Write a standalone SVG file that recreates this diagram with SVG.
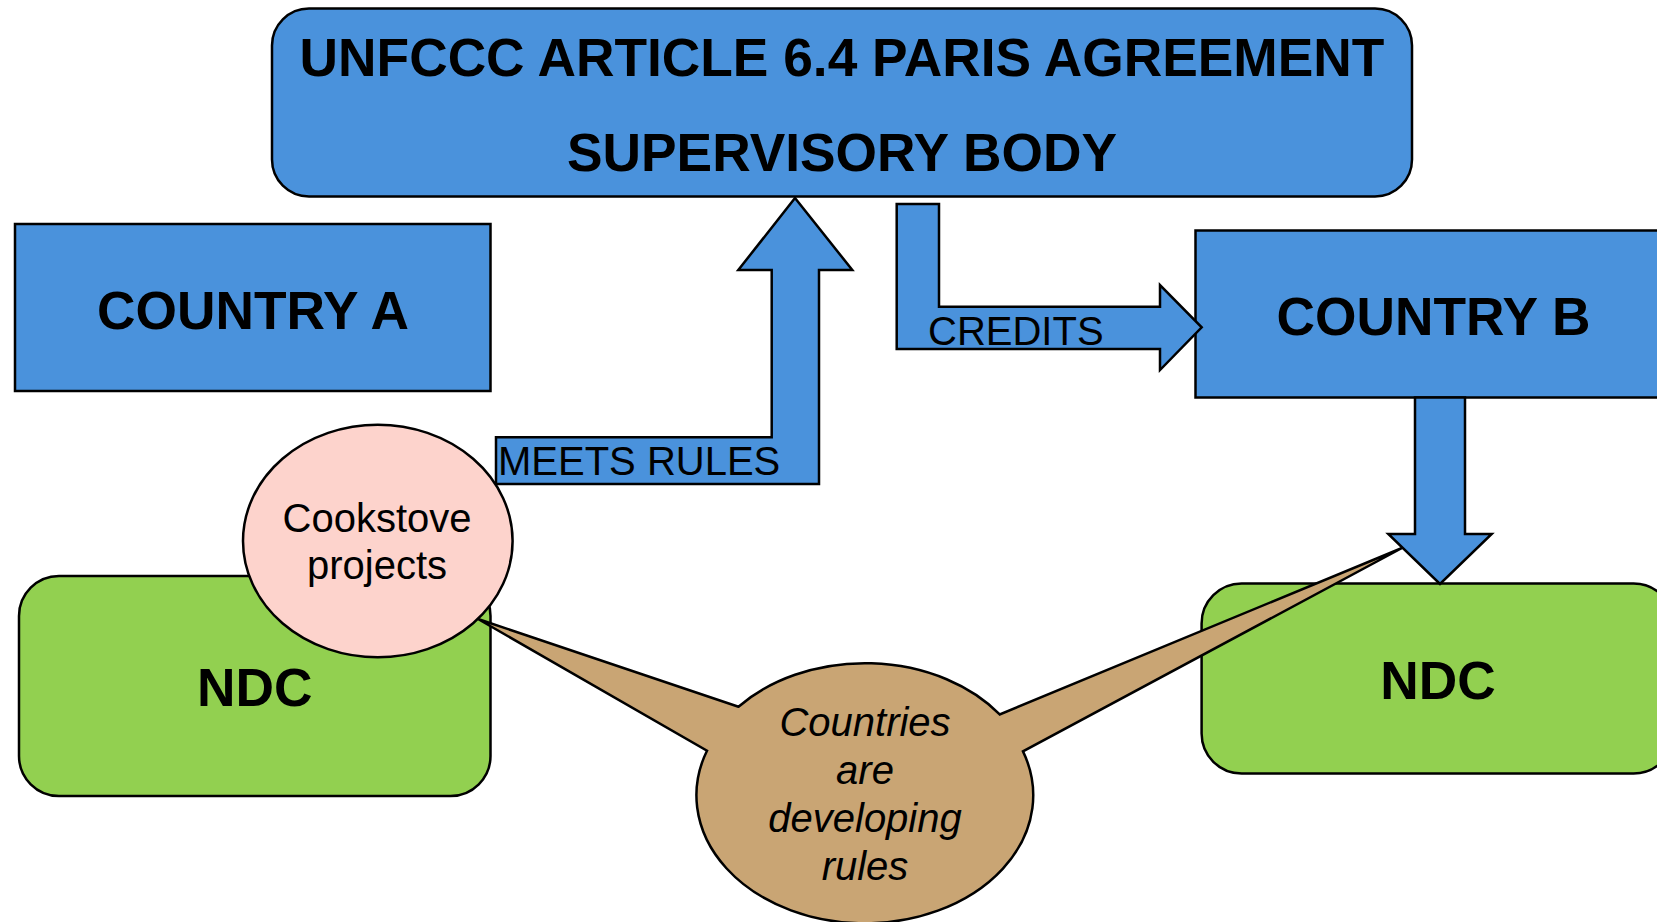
<svg xmlns="http://www.w3.org/2000/svg" width="1657" height="922" viewBox="0 0 1657 922">
<style>
.blue{fill:#4A92DC;stroke:#000;stroke-width:2.5}
.green{fill:#92D050;stroke:#000;stroke-width:2.5}
.pink{fill:#FDD3CC;stroke:#000;stroke-width:2.5}
.tan{fill:#C9A574;stroke:#000;stroke-width:2.5;stroke-linejoin:miter}
.big{font-family:"Liberation Sans",Arial,sans-serif;font-weight:bold;font-size:53.3px;fill:#000;text-anchor:middle}
.lbl{font-family:"Liberation Sans",Arial,sans-serif;font-size:40px;fill:#000}
.it{font-family:"Liberation Sans",Arial,sans-serif;font-style:italic;font-size:40px;fill:#000;text-anchor:middle}
.reg{font-family:"Liberation Sans",Arial,sans-serif;font-size:40px;fill:#000;text-anchor:middle}
</style>
<rect width="1657" height="922" fill="#fff"/>
<g id="supervisory-body">
<rect class="blue" x="272" y="8.5" width="1140" height="188" rx="37" ry="37"/>
<text class="big" x="842" y="76">UNFCCC ARTICLE 6.4 PARIS AGREEMENT</text>
<text class="big" x="842" y="171">SUPERVISORY BODY</text>
</g>
<g id="country-a">
<rect class="blue" x="15" y="224" width="475.5" height="167"/>
<text class="big" x="253" y="329">COUNTRY A</text>
</g>
<g id="country-b">
<rect class="blue" x="1195.5" y="230.5" width="477" height="167"/>
<text class="big" x="1433.5" y="335">COUNTRY B</text>
</g>
<g id="ndc-a">
<rect class="green" x="19" y="576" width="471.5" height="220" rx="40" ry="40"/>
<text class="big" x="254.7" y="706">NDC</text>
</g>
<g id="ndc-b">
<rect class="green" x="1201.6" y="583.5" width="472" height="190" rx="40" ry="40"/>
<text class="big" x="1438" y="698.5">NDC</text>
</g>
<g id="connectors">
<g id="meets-rules">
<polygon class="blue" points="496,437.3 771.7,437.3 771.7,270 738.3,270 795,198 852.3,270 819,270 819,484 496,484"/>
<text class="lbl" x="498" y="475">MEETS RULES</text>
</g>
<g id="credits">
<polygon class="blue" points="896.7,204 939,204 939,306.7 1160,306.7 1160,285 1201.7,327.3 1160,370 1160,349 896.7,349"/>
<text class="lbl" x="928" y="345">CREDITS</text>
</g>
<polygon id="to-ndc-b" class="blue" points="1415,397.5 1465,397.5 1465,534 1491.7,534 1440,584 1388.3,534 1415,534"/>
</g>
<g id="callout">
<path class="tan" d="M 738.5 706.7 L 478 619 L 707 750.7 A 168.4 128 0 1 0 1023 751.4 L 1402 548 L 999.7 714.4 A 168.4 128 0 0 0 738.5 706.7 Z"/>
<text class="it" x="865" y="735.7">Countries</text>
<text class="it" x="865" y="784">are</text>
<text class="it" x="865" y="831.7">developing</text>
<text class="it" x="865" y="880">rules</text>
</g>
<g id="cookstove">
<ellipse class="pink" cx="377.8" cy="541" rx="134.8" ry="116.3"/>
<text class="reg" x="377" y="531.6">Cookstove</text>
<text class="reg" x="377" y="579">projects</text>
</g>
</svg>
